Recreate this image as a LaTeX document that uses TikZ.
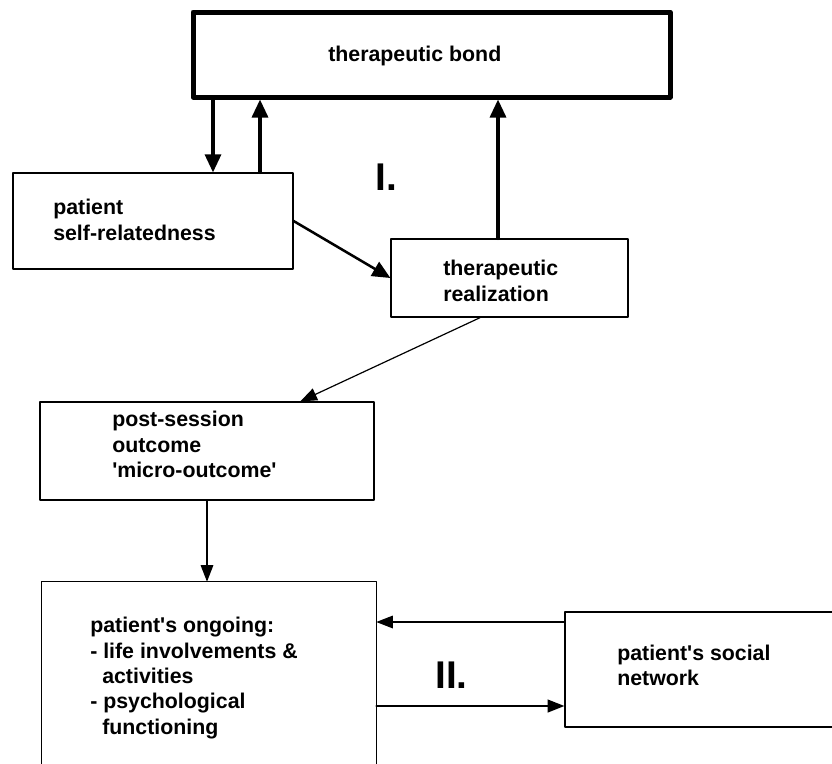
\documentclass[tikz,border=0pt]{standalone}
\usepackage{fontspec}
\setmainfont{Liberation Sans}
\usetikzlibrary{arrows.meta}

\tikzset{
  box/.style={draw,line width=0.9pt,inner sep=0pt},
  txt/.style={font=\fontsize{16}{19}\selectfont\bfseries,align=left,anchor=west,inner sep=0pt},
  roman/.style={font=\fontsize{29}{29}\selectfont\bfseries,anchor=base west,inner sep=0pt},
  bigarr/.style={-{Triangle[length=13.5pt,width=12pt]},line width=2.4pt},
  smallarr/.style={-{Triangle[length=12.5pt,width=9.5pt]},line width=0.9pt}
}

\begin{document}
\begin{tikzpicture}[line cap=round,line join=round,x=0.75pt,y=-0.75pt]
\useasboundingbox (0,0) rectangle (832,764);
% boxes
\node[box,line width=3.75pt,minimum width=357.75pt,minimum height=63.75pt] (bond) at (431.5,54.5) {};
\node[box,minimum width=210pt,minimum height=72pt] (self) at (153,221) {};
\node[box,minimum width=177.75pt,minimum height=58.5pt] (real) at (509.5,278) {};
\node[box,minimum width=250.5pt,minimum height=73.5pt] (post) at (207,451) {};
\node[inner sep=0pt,minimum width=250.5pt,minimum height=136.5pt] (ongoing) at (209,673) {};
\draw[line width=0.9pt] (ongoing.south west) -- (ongoing.north west) -- (ongoing.north east) -- (ongoing.south east);
\node[box,minimum width=206.25pt,minimum height=86.25pt] (social) at (702.5,669.5) {};
% texts
\node[txt] (t-bond) at (328,56) {therapeutic bond};
\node[txt] (t-self) at (53,220) {patient\\self-relatedness};
\node[txt] (t-real) at (443,281) {therapeutic\\realization};
\node[txt] (t-post) at (112,444.5) {post-session\\outcome\\\textquotesingle micro-outcome\textquotesingle};
\node[txt] (t-ongoing) at (90,678) {patient\textquotesingle s ongoing:\\- life involvements \&\\\hspace{9pt}activities\\- psychological\\\hspace{9pt}functioning};
\node[txt] (t-social) at (617,665.5) {patient\textquotesingle s social\\network};
\node[roman] (lab1) at (375,190) {I.};
\node[roman] (lab2) at (435,688) {II.};
% connectors
\coordinate (xa) at (213,0);
\coordinate (xb) at (260,0);
\coordinate (xc) at (498,0);
\coordinate (ya) at (0,622);
\coordinate (yb) at (0,706);
\draw[bigarr] (bond.south -| xa) -- (self.north -| xa);
\draw[bigarr] (self.north -| xb) -- (bond.south -| xb);
\draw[bigarr] (real.north -| xc) -- (bond.south -| xc);
\draw[bigarr,line width=1.9pt] (self.east) -- (real.west);
\draw[smallarr] ([xshift=-22pt]real.south) -- ([xshift=70pt]post.north);
\draw[smallarr] (post.south) -- (post.south |- ongoing.north);
\draw[smallarr] (social.west |- ya) -- (ongoing.east |- ya);
\draw[smallarr,line width=1.4pt] (ongoing.east |- yb) -- (social.west |- yb);
\end{tikzpicture}
\end{document}
